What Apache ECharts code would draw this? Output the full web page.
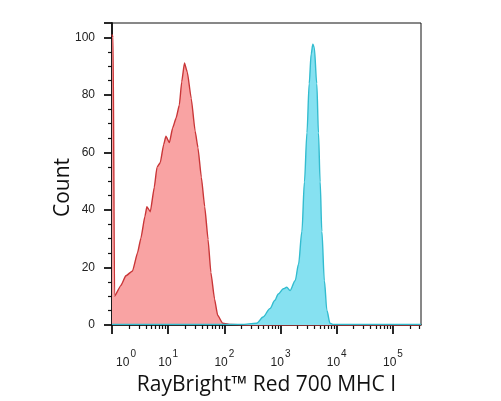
<!DOCTYPE html>
<html>
<head>
<meta charset="utf-8">
<script src="https://cdn.jsdelivr.net/npm/echarts@6/dist/echarts.min.js"></script>
<style>
  html, body { margin: 0; padding: 0; background: #fff; }
  #grafiek { width: 501px; height: 401px; }
</style>
</head>
<body>
<div id="grafiek"></div>
<script>
// decade ticks of the x axis and their exponents
const majorTicks = [1, 10, 100, 1000, 10000, 100000];
const tickExponents = ['0', '1', '2', '3', '4', '5'];
const minorSteps = [2, 3, 4, 5, 6, 7, 8, 9];

// unstained / isotype (red) histogram: intensity and count
const redX = [1, 1.047, 1.109, 1.435, 1.762, 2.32, 2.85, 3.27, 3.85, 4.18, 4.81, 5.66, 6.31, 7.24, 8.32, 9.12,
    10.5, 12.0, 13.8, 15.8, 17.4, 19.5, 21.9, 25.7, 30.2, 33.9, 38.9, 44.7, 51.3, 57.5, 66.8, 75.9, 93.3, 132, 316, 316228];
const redY = [101, 100, 10, 13.7, 17.1, 18.8, 25.1, 30.2, 37.7, 41.1, 39.4, 47.9, 54.8, 56.5, 62.8, 65.6,
    63.4, 68.5, 71.9, 76.5, 84.5, 91.1, 87.9, 78.8, 67.4, 61.6, 51.4, 41.1, 29.7, 18.3, 9.1, 3.4, 0.6, 0.2, 0, 0];

// stained (blue) histogram
const blueX = [1, 200, 376, 490, 646, 794, 912, 1122, 1288, 1479, 1820, 2089, 2399, 2661, 2951, 3236, 3508,
    3758, 3981, 4416, 4732, 5070, 5433, 6026, 6683, 7586, 8710, 316228];
const blueY = [0.2, 0.2, 0.6, 2.8, 5.7, 8.6, 10.8, 12.6, 13.1, 12.0, 15.4, 21.1, 32.5, 49.7, 66.8, 83.9, 94.2,
    97.6, 96.5, 83.9, 66.8, 49.7, 32.5, 15.4, 5.1, 0.6, 0.2, 0.2];

function koppel(xs, ys) {
    return xs.map((x, i) => [x, ys[i]]);
}

let minorTicks = [];
majorTicks.forEach(d => minorSteps.forEach(k => {
    if (d * k <= 316228) minorTicks.push(d * k);
}));

function exponent(v) {
    let idx = majorTicks.findIndex(t => Math.abs(Math.log10(v) - Math.log10(t)) < 0.01);
    return idx < 0 ? '' : tickExponents[idx];
}

function toonGrafiek() {
    let grafiek = echarts.init(document.getElementById('grafiek'));
    let xBasis = {
        type: 'log',
        logBase: 10,
        min: 1,
        max: 316228,
        position: 'bottom',
        splitLine: { show: false }
    };
    let option = {
        backgroundColor: '#fff',
        animation: false,
        grid: {
            left: 112, right: 80, top: 23, bottom: 70,
            show: true, borderColor: '#111', borderWidth: 1
        },
        xAxis: [
            Object.assign({}, xBasis, {
                name: 'RayBright™ Red 700 MHC I',
                nameLocation: 'middle',
                nameGap: 50,
                nameMoveOverlap: false,
                nameTextStyle: { fontFamily: 'Open Sans', fontSize: 21, color: '#111' },
                axisLine: { show: true, lineStyle: { color: '#111', width: 1.5 } },
                axisTick: { show: true, length: 4, customValues: minorTicks, lineStyle: { color: '#111', width: 1.2 } },
                axisLabel: { show: false }
            }),
            Object.assign({}, xBasis, {
                axisLine: { show: false },
                axisTick: { show: true, length: 9, customValues: majorTicks, lineStyle: { color: '#111', width: 1.8 } },
                axisLabel: {
                    customValues: majorTicks,
                    margin: 24,
                    formatter: (v) => {
                        let e = exponent(v);
                        return e === '0' ? '{p|10}{s|' + e + '}' : '{b|10}{s|' + e + '}';
                    },
                    rich: {
                        b: { fontFamily: 'Liberation Sans', fontSize: 12, color: '#222', verticalAlign: 'bottom', lineHeight: 20 },
                        s: { fontFamily: 'Liberation Sans', fontSize: 10, color: '#222', verticalAlign: 'top', lineHeight: 20, padding: [0, 0, 0, 1] },
                        p: { fontFamily: 'Liberation Sans', fontSize: 12, color: '#222', verticalAlign: 'bottom', lineHeight: 20, padding: [0, 0, 0, 28] }
                    }
                }
            })
        ],
        yAxis: {
            type: 'value',
            min: 0,
            max: 105,
            interval: 20,
            name: 'Count',
            nameLocation: 'middle',
            nameGap: 38,
            nameMoveOverlap: false,
            nameTextStyle: { fontFamily: 'Open Sans', fontSize: 21, color: '#111', padding: [0, 27, 0, 0] },
            axisLine: { show: true, lineStyle: { color: '#111', width: 1.8 } },
            axisTick: { show: true, length: 8, lineStyle: { color: '#111', width: 1.8 } },
            minorTick: { show: true, splitNumber: 4, length: 4, lineStyle: { color: '#111', width: 1.2 } },
            splitLine: { show: false },
            axisLabel: { fontFamily: 'Liberation Sans', fontSize: 12, color: '#222', margin: 17, showMaxLabel: false }
        },
        series: [
            {
                name: 'isotype',
                type: 'line',
                xAxisIndex: 0,
                data: koppel(redX, redY),
                symbol: 'none',
                smooth: 0.15,
                smoothMonotone: 'x',
                lineStyle: { color: '#c93638', width: 1.4 },
                areaStyle: { color: '#f9a3a3', opacity: 1 },
                z: 2
            },
            {
                name: 'MHC I',
                type: 'line',
                xAxisIndex: 0,
                data: koppel(blueX, blueY),
                symbol: 'none',
                smooth: 0.3,
                smoothMonotone: 'x',
                lineStyle: { color: '#33bccf', width: 1.4 },
                areaStyle: { color: '#86e1f1', opacity: 1 },
                z: 3
            }
        ]
    };
    grafiek.setOption(option);
}

window.onload = function () {
    if (document.getElementById('grafiek')) {
        toonGrafiek();
    } else {
        console.error("Element #grafiek niet gevonden!");
    }
};
</script>
</body>
</html>
